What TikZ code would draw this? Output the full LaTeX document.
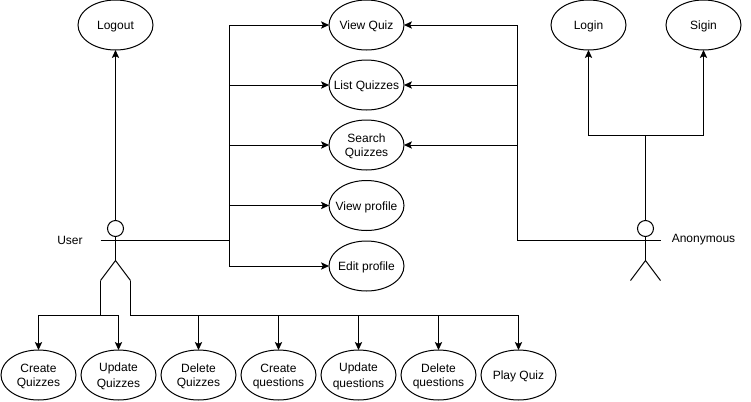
\documentclass[tikz,border=0pt]{standalone}
\usepackage{fontspec}
\setmainfont{Liberation Sans}
\usetikzlibrary{shapes.geometric, arrows.meta, positioning}
\newcommand{\uc}[1]{\rule[-1.5pt]{0pt}{10.5pt}#1}
\tikzset{
  usecase/.style={ellipse, draw, fill=white, line width=0.75pt, minimum width=56.25pt, minimum height=37.5pt, inner xsep=-15pt, inner ysep=-5pt, outer sep=0pt, font=\fontsize{9}{10.5}\selectfont, align=center},
  actorhead/.style={circle, draw, line width=0.75pt, minimum size=12pt, inner sep=0pt, outer sep=0pt},
  actorlabel/.style={font=\fontsize{9}{10.5}\selectfont, inner sep=0pt},
  wire/.style={line width=0.75pt},
  link/.style={line width=0.75pt, -{Stealth[length=6pt, width=5.5pt, inset=1.4pt]}},
}
\begin{document}
\begin{tikzpicture}[x=0.75pt, y=-0.75pt]
\useasboundingbox (0,0) rectangle (751,401);
% use cases, centre column
\node[usecase] (viewquiz) at (366.5,25) {\uc{View Quiz}};
\node[usecase] (listquiz) at (366.5,85) {\uc{List Quizzes}};
\node[usecase] (searchquiz) at (366.5,145) {\uc{Search}\\\uc{Quizzes}};
\node[usecase] (viewprofile) at (366.5,205.5) {\uc{View profile}};
\node[usecase] (editprofile) at (366.5,266) {\uc{Edit profile}};
% top row
\node[usecase] (logout) at (115.5,25) {\uc{Logout}};
\node[usecase] (login) at (588.5,25) {\uc{Login}};
\node[usecase] (signin) at (703.5,25) {\uc{Sigin}};
% bottom row
\node[usecase] (createquiz) at (38.5,375) {\uc{Create}\\\uc{Quizzes}};
\node[usecase] (updatequiz) at (118.5,375) {\uc{Update}\\\uc{Quizzes}};
\node[usecase] (deletequiz) at (198.5,375) {\uc{Delete}\\\uc{Quizzes}};
\node[usecase] (createq) at (278.5,375) {\uc{Create}\\\uc{questions}};
\node[usecase] (updateq) at (358.5,375) {\uc{Update}\\\uc{questions}};
\node[usecase] (deleteq) at (438.5,375) {\uc{Delete}\\\uc{questions}};
\node[usecase] (playquiz) at (518.5,375) {\uc{Play Quiz}};
% actors
\node[actorhead] (userhead) at (115.5,228.5) {};
\node[actorhead] (anonhead) at (645.5,228.5) {};
\node[actorlabel] (userlabel) at (70,240) {User};
\node[actorlabel] (anonlabel) at (703.5,240) {Anonymous};
\coordinate (userhip) at (115.5,260.5);
\coordinate (userarm) at (100.5,240.5);
\coordinate (userleft) at (100.5,280.5);
\coordinate (userright) at (130.5,280.5);
\coordinate (userbus) at (229.5,240.5);
\coordinate (leftdrop) at (100.5,315.5);
\coordinate (rightdrop) at (130.5,315.5);
\coordinate (anonhip) at (645.5,260.5);
\coordinate (anonarm) at (660.5,240.5);
\coordinate (anonleft) at (630.5,280.5);
\coordinate (anonright) at (660.5,280.5);
\coordinate (anonbus) at (517.5,240.5);
\coordinate (anonfork) at (645.5,135.5);
\draw[wire] (userhead) -- (userhip);
\draw[wire] (userarm) -- (userbus);
\draw[wire] (userleft) -- (userhip) -- (userright);
\draw[wire] (anonhead.south) -- (anonhip);
\draw[wire] (anonarm) -- (anonbus);
\draw[wire] (anonleft) -- (anonhip) -- (anonright);
\draw[wire] (userleft) -- (leftdrop);
\draw[wire] (userright) -- (rightdrop);
% links
\draw[link] (userhead) -- (logout);
\foreach \target in {viewquiz, listquiz, searchquiz, viewprofile, editprofile} {
  \draw[link] (userbus) |- (\target.west);
}
\foreach \target in {viewquiz, listquiz, searchquiz} {
  \draw[link] (anonbus) |- (\target.east);
}
\draw[wire] (anonhead.north) -- (anonfork);
\draw[link] (anonfork) -| (login.south);
\draw[link] (anonfork) -| (signin.south);
\foreach \target in {createquiz, updatequiz} {
  \draw[link] (leftdrop) -| (\target.north);
}
\foreach \target in {deletequiz, createq, updateq, deleteq, playquiz} {
  \draw[link] (rightdrop) -| (\target.north);
}
\end{tikzpicture}
\end{document}
